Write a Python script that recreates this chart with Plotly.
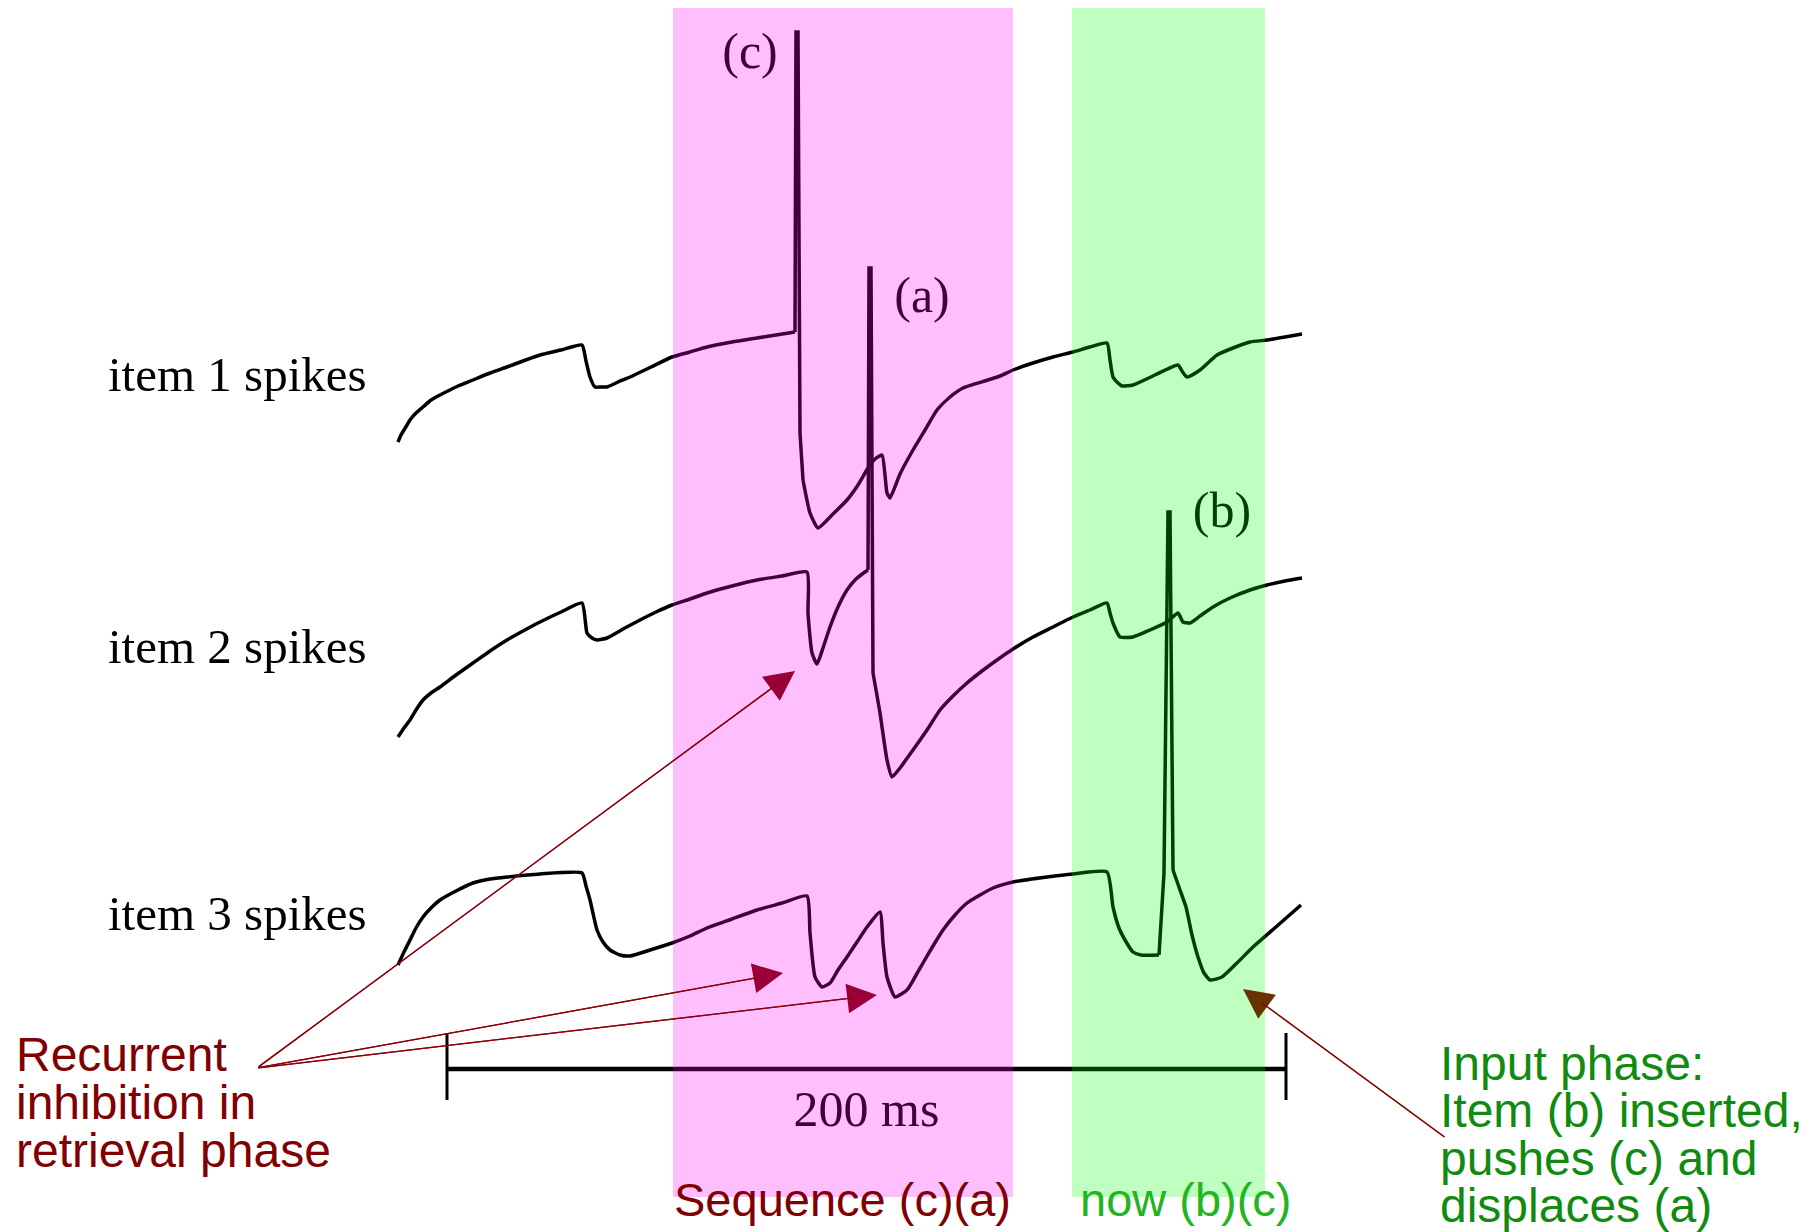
import plotly.graph_objects as go

item1_t = [398, 401, 404, 407, 410, 416, 423, 431, 440, 456, 473, 490, 507, 523, 540, 561, 582, 586, 590, 595,
           601, 607, 618, 630, 651, 672, 690, 707, 732, 757, 776, 795, 796, 798, 799, 800, 803, 810,
           818, 833, 847, 858, 868, 875, 882, 885, 887, 890, 900, 913, 925, 937, 950, 963, 988, 1000,
           1013, 1033, 1053, 1073, 1090, 1107, 1110, 1113, 1118, 1122, 1133, 1155, 1178, 1182, 1187,
           1200, 1217, 1233, 1250, 1267, 1285, 1302]
item1_v = [442, 435, 430, 425, 420, 413, 407, 400, 395, 387, 380, 373, 367, 361, 355, 350, 345, 361, 377, 387,
           387, 387, 382, 377, 367, 357, 352, 347, 342, 338, 335, 332, 32, 32, 300, 433, 480, 513,
           528, 514, 500, 485, 468, 459, 455, 475, 493, 498, 474, 450, 430, 410, 397, 388, 380, 376,
           370, 363, 357, 352, 347, 343, 360, 377, 383, 386, 385, 375, 365, 371, 377,
           370, 355, 348, 342, 340, 337, 334]

item2_t = [398, 404, 410, 416, 423, 431, 440, 456, 473, 490, 507, 523, 540, 561, 582, 587, 592, 597,
           607, 623, 640, 656, 672, 690, 707, 732, 757, 782, 807, 808, 812, 817, 823, 830, 838, 847,
           856, 865, 868, 869, 871, 872, 873, 880, 887, 892, 900, 913, 927, 940, 953, 967, 982, 997,
           1013, 1033, 1053, 1073, 1090, 1107, 1110, 1113, 1120, 1133, 1150, 1167, 1178, 1183, 1190,
           1200, 1213, 1230, 1250, 1267, 1285, 1302]
item2_v = [737, 728, 720, 710, 700, 693, 687, 675, 663, 651, 640, 631, 622, 612, 603, 633, 638, 640,
           638, 629, 620, 612, 605, 599, 593, 586, 580, 576, 572, 613, 653, 664, 648, 627, 607, 590,
           579, 572, 570, 268, 268, 627, 673, 713, 760, 777, 768, 750, 730, 710, 696, 683, 671, 660,
           649, 637, 627, 617, 610, 603, 613, 623, 637, 637, 630, 622, 613, 622, 623,
           616, 607, 598, 590, 585, 581, 578]

item3_t = [398, 404, 410, 416, 423, 431, 440, 456, 473, 490, 507, 540, 582, 586, 590, 597, 603, 610,
           620, 630, 650, 672, 690, 707, 732, 757, 782, 807, 810, 815, 822, 830, 838, 847, 857, 867,
           880, 883, 887, 895, 907, 915, 923, 933, 943, 955, 967, 980, 993, 1013, 1047, 1073, 1107,
           1113, 1119, 1125, 1133, 1141, 1159, 1164, 1168, 1170, 1173, 1180, 1186, 1192, 1198, 1204,
           1210, 1222, 1237, 1253, 1277, 1301]
item3_v = [965, 952, 940, 928, 917, 908, 900, 891, 883, 879, 877, 874, 873, 886, 900, 930, 942, 950,
           955, 956, 950, 943, 936, 928, 919, 910, 903, 896, 933, 977, 987, 983, 970, 957, 942, 927,
           912, 943, 977, 997, 990, 977, 963, 946, 930, 915, 903, 895, 888, 882, 877, 874, 872,
           907, 928, 940, 952, 955, 955, 873, 512, 512, 870, 890, 907, 935, 957, 973,
           980, 977, 963, 947, 926, 905]

# time windows holding the fast spike strokes (drawn as straight segments)
spike_windows = [(795, 803), (868, 873), (1159, 1173)]

row_labels = ["item 1 spikes", "item 2 spikes", "item 3 spikes"]
row_label_y = [374, 646, 913]
spike_labels = ["(c)", "(a)", "(b)"]
spike_label_t = [750, 922, 1222]
spike_label_v = [55, 299, 514]

scale_t = [447, 1286]
scale_v = 1069
scale_label = "200 ms"

bands = [  # (start, end, colour)
    (673, 1013, "rgba(255,0,255,0.25)"),
    (1072, 1265, "rgba(0,255,0,0.25)"),
]
band_top, band_bottom = 8, 1197

W, H = 1816, 1232
PAD = 8  # default page margin of the html body
SERIF = "Liberation Serif, Times New Roman, serif"
SANS = "Liberation Sans, Arial, Helvetica, sans-serif"
RED = "#800000"
GREEN = "#108a10"

fig = go.Figure()
for t, v, (s0, s1) in [(item1_t, item1_v, spike_windows[0]),
                       (item2_t, item2_v, spike_windows[1]),
                       (item3_t, item3_v, spike_windows[2])]:
    i0 = t.index(s0)
    i1 = t.index(s1)
    parts = [(t[:i0 + 1], v[:i0 + 1], "spline"),
             (t[i0:i1 + 1], v[i0:i1 + 1], "linear"),
             (t[i1:], v[i1:], "spline")]
    for pt, pv, shp in parts:
        line = dict(color="black", width=3.5, shape=shp)
        if shp == "spline":
            line["smoothing"] = 0.5
        fig.add_trace(go.Scatter(x=pt, y=pv, mode="lines", line=line,
                                 hoverinfo="skip", showlegend=False))

# scale bar
fig.add_trace(go.Scatter(x=scale_t, y=[scale_v, scale_v], mode="lines",
                         line=dict(color="black", width=4.5), showlegend=False, hoverinfo="skip"))
for st in scale_t:
    fig.add_trace(go.Scatter(x=[st, st], y=[scale_v - 36, scale_v + 31], mode="lines",
                             line=dict(color="black", width=3), showlegend=False, hoverinfo="skip"))

# labels lying under the coloured overlays
fig.add_trace(go.Scatter(x=spike_label_t + [sum(scale_t) / 2],
                         y=spike_label_v + [1113],
                         text=spike_labels + [scale_label], mode="text",
                         textposition="middle center",
                         textfont=dict(family=SERIF, size=50, color="black"),
                         showlegend=False, hoverinfo="skip"))

shapes = []
for x0, x1, col in bands:
    shapes.append(dict(type="rect", xref="x", yref="y", x0=x0, x1=x1, y0=band_top, y1=band_bottom,
                       fillcolor=col, line=dict(width=0), layer="above"))

ann = []
for lab, yy in zip(row_labels, row_label_y):
    ann.append(dict(x=106, y=yy, xref="x", yref="y", text=lab, showarrow=False,
                    xanchor="left", yanchor="middle",
                    font=dict(family=SERIF, size=49, color="black")))

left_lines = ["Recurrent", "inhibition in", "retrieval phase"]
for i, s in enumerate(left_lines):
    ann.append(dict(x=14, y=1054 + 48 * i, xref="x", yref="y", text=s, showarrow=False,
                    xanchor="left", yanchor="middle", font=dict(family=SANS, size=48, color=RED)))

right_lines = ["Input phase:", "Item (b) inserted,", "pushes (c) and", "displaces (a)"]
for i, s in enumerate(right_lines):
    ann.append(dict(x=1438, y=1063 + 47.5 * i, xref="x", yref="y", text=s, showarrow=False,
                    xanchor="left", yanchor="middle", font=dict(family=SANS, size=48, color=GREEN)))

ann.append(dict(x=672, y=1199, xref="x", yref="y", text="Sequence (c)(a)", showarrow=False,
                xanchor="left", yanchor="middle", font=dict(family=SANS, size=47, color=RED)))
ann.append(dict(x=1078, y=1199, xref="x", yref="y", text="now (b)(c)", showarrow=False,
                xanchor="left", yanchor="middle", font=dict(family=SANS, size=47, color="#22b422")))

# arrows: (tail, tip, head colour)
arrows = [
    ((257, 1068), (795, 671), "#99003a"),
    ((257, 1068), (783, 973), "#99003a"),
    ((257, 1068), (877, 995), "#99003a"),
    ((1446, 1138), (1243, 989), "#663300"),
]
for (tx, ty), (hx, hy), hc in arrows:
    ann.append(dict(x=hx, y=hy, ax=tx, ay=ty, xref="x", yref="y", axref="x", ayref="y",
                    text="", showarrow=True, arrowhead=2, arrowsize=4.6, arrowwidth=1.3,
                    arrowcolor=hc))
    ann.append(dict(x=hx, y=hy, ax=tx, ay=ty, xref="x", yref="y", axref="x", ayref="y",
                    text="", showarrow=True, arrowhead=0, arrowwidth=1.3, standoff=24,
                    arrowcolor="#8b0000"))

fig.update_layout(
    width=W - 2 * PAD, height=H - PAD, margin=dict(l=0, r=0, t=0, b=0),
    paper_bgcolor="white", plot_bgcolor="white",
    xaxis=dict(range=[PAD, W - PAD], visible=False, fixedrange=True),
    yaxis=dict(range=[H, PAD], visible=False, fixedrange=True),
    shapes=shapes, annotations=ann, showlegend=False,
)
fig.write_html("out.html")
